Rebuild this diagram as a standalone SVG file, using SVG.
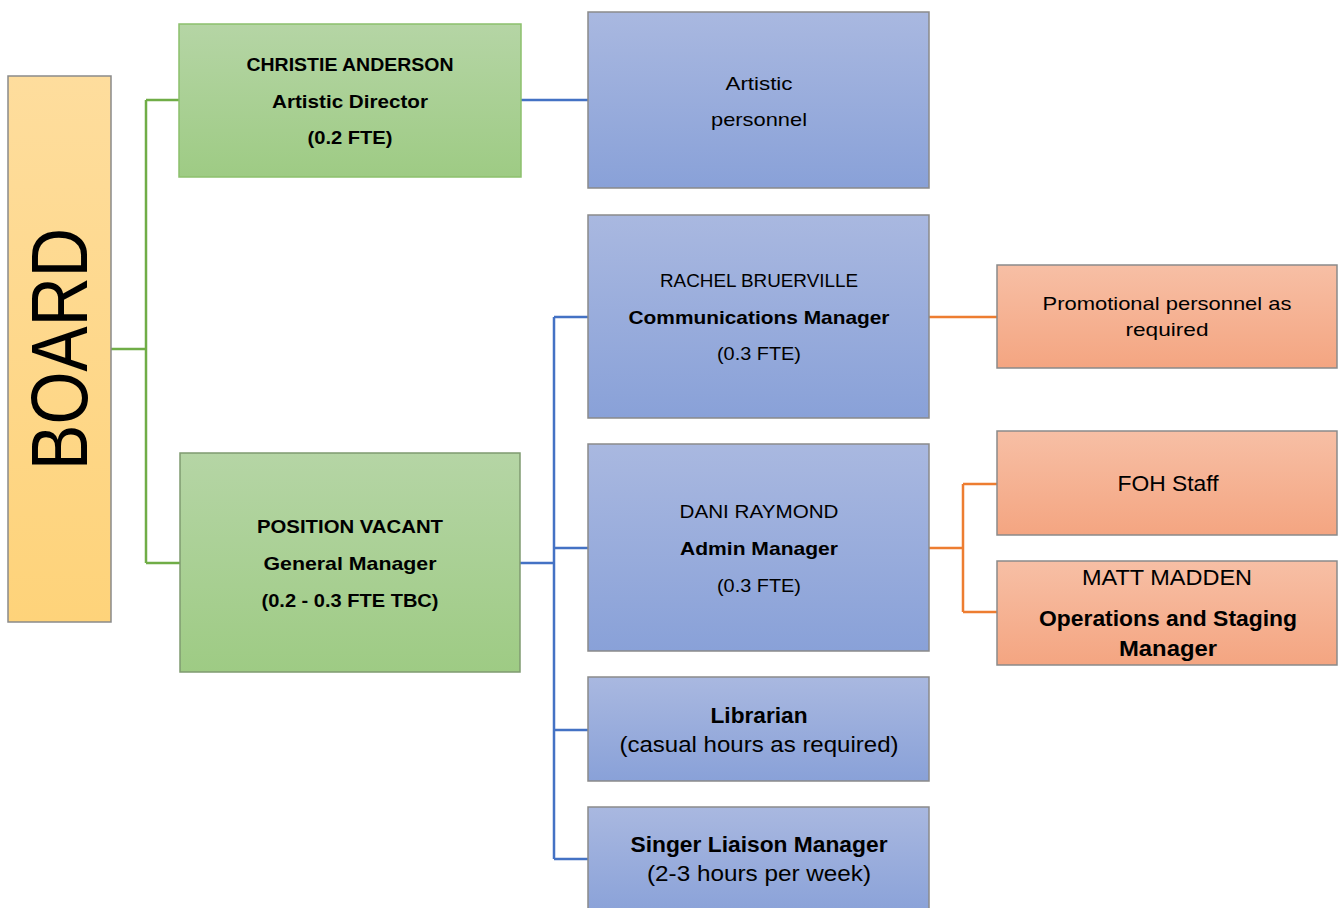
<svg xmlns="http://www.w3.org/2000/svg" width="1342" height="908" viewBox="0 0 1342 908">
<defs>
<linearGradient id="gY" x1="0" y1="0" x2="0" y2="1"><stop offset="0" stop-color="#fedd9d"/><stop offset="1" stop-color="#fed37a"/></linearGradient>
<linearGradient id="gG" x1="0" y1="0" x2="0" y2="1"><stop offset="0" stop-color="#b5d5a5"/><stop offset="1" stop-color="#9ecb84"/></linearGradient>
<linearGradient id="gB" x1="0" y1="0" x2="0" y2="1"><stop offset="0" stop-color="#a9b8e0"/><stop offset="1" stop-color="#89a1d8"/></linearGradient>
<linearGradient id="gO" x1="0" y1="0" x2="0" y2="1"><stop offset="0" stop-color="#f7bfa5"/><stop offset="1" stop-color="#f4a581"/></linearGradient>
</defs>
<style>
text{font-family:"Liberation Sans",Arial,sans-serif;fill:#000;text-anchor:middle}
.b{font-weight:bold}
.s{font-size:19px}
.m{font-size:22px}
.box{stroke:#8a8a8a;stroke-width:1.5}
.cg{stroke:#70ad47;stroke-width:2.5;fill:none}
.cb{stroke:#4472c4;stroke-width:2.5;fill:none}
.co{stroke:#ed7d31;stroke-width:2.5;fill:none}
</style>
<rect width="1342" height="908" fill="#fff"/>
<g id="connectors">
<path class="cg" d="M111 349H146M146 100V563M146 100H179M146 563H180"/>
<path class="cb" d="M521 100H588"/>
<path class="cb" d="M520 563H554M554 317V859M554 317H588M554 548H588M554 730H588M554 859H588"/>
<path class="co" d="M929 317H997"/>
<path class="co" d="M929 548H963M963 484V612M963 484H997M963 612H997"/>
</g>
<g id="board">
<rect class="box" x="8" y="76" width="103" height="546" fill="url(#gY)"/>
<text transform="translate(87,349) rotate(-90)" font-size="80" textLength="242" lengthAdjust="spacingAndGlyphs">BOARD</text>
</g>
<g id="christie">
<rect x="179" y="24" width="342" height="153" fill="url(#gG)" stroke="#8cc06c" stroke-width="1.5"/>
<text class="s b" x="350" y="71" textLength="207" lengthAdjust="spacingAndGlyphs">CHRISTIE ANDERSON</text>
<text class="s b" x="350" y="108" textLength="156" lengthAdjust="spacingAndGlyphs">Artistic Director</text>
<text class="s b" x="350" y="144" textLength="85" lengthAdjust="spacingAndGlyphs">(0.2 FTE)</text>
</g>
<g id="artistic">
<rect class="box" x="588" y="12" width="341" height="176" fill="url(#gB)"/>
<text class="s" x="759" y="90" textLength="67" lengthAdjust="spacingAndGlyphs">Artistic</text>
<text class="s" x="759" y="126" textLength="96" lengthAdjust="spacingAndGlyphs">personnel</text>
</g>
<g id="vacant">
<rect x="180" y="453" width="340" height="219" fill="url(#gG)" stroke="#7f9a70" stroke-width="1.5"/>
<text class="s b" x="350" y="533" textLength="186" lengthAdjust="spacingAndGlyphs">POSITION VACANT</text>
<text class="s b" x="350" y="570" textLength="173" lengthAdjust="spacingAndGlyphs">General Manager</text>
<text class="s b" x="350" y="607" textLength="177" lengthAdjust="spacingAndGlyphs">(0.2 - 0.3 FTE TBC)</text>
</g>
<g id="rachel">
<rect class="box" x="588" y="215" width="341" height="203" fill="url(#gB)"/>
<text class="s" x="759" y="287" textLength="198" lengthAdjust="spacingAndGlyphs">RACHEL BRUERVILLE</text>
<text class="s b" x="759" y="324" textLength="261" lengthAdjust="spacingAndGlyphs">Communications Manager</text>
<text class="s" x="759" y="360" textLength="84" lengthAdjust="spacingAndGlyphs">(0.3 FTE)</text>
</g>
<g id="dani">
<rect class="box" x="588" y="444" width="341" height="207" fill="url(#gB)"/>
<text class="s" x="759" y="518" textLength="159" lengthAdjust="spacingAndGlyphs">DANI RAYMOND</text>
<text class="s b" x="759" y="555" textLength="158" lengthAdjust="spacingAndGlyphs">Admin Manager</text>
<text class="s" x="759" y="592" textLength="84" lengthAdjust="spacingAndGlyphs">(0.3 FTE)</text>
</g>
<g id="librarian">
<rect class="box" x="588" y="677" width="341" height="104" fill="url(#gB)"/>
<text class="m b" x="759" y="723" textLength="97" lengthAdjust="spacingAndGlyphs">Librarian</text>
<text class="m" x="759" y="752" textLength="279" lengthAdjust="spacingAndGlyphs">(casual hours as required)</text>
</g>
<g id="singer">
<rect class="box" x="588" y="807" width="341" height="110" fill="url(#gB)"/>
<text class="m b" x="759" y="852" textLength="257" lengthAdjust="spacingAndGlyphs">Singer Liaison Manager</text>
<text class="m" x="759" y="881" textLength="224" lengthAdjust="spacingAndGlyphs">(2-3 hours per week)</text>
</g>
<g id="promotional">
<rect class="box" x="997" y="265" width="340" height="103" fill="url(#gO)"/>
<text class="s" x="1167" y="310" textLength="249" lengthAdjust="spacingAndGlyphs">Promotional personnel as</text>
<text class="s" x="1167" y="336" textLength="83" lengthAdjust="spacingAndGlyphs">required</text>
</g>
<g id="foh">
<rect class="box" x="997" y="431" width="340" height="104" fill="url(#gO)"/>
<text class="m" x="1168" y="491" textLength="101" lengthAdjust="spacingAndGlyphs">FOH Staff</text>
</g>
<g id="matt">
<rect class="box" x="997" y="561" width="340" height="104" fill="url(#gO)"/>
<text class="m" x="1167" y="585" textLength="170" lengthAdjust="spacingAndGlyphs">MATT MADDEN</text>
<text class="m b" x="1168" y="626" textLength="258" lengthAdjust="spacingAndGlyphs">Operations and Staging</text>
<text class="m b" x="1168" y="656" textLength="98" lengthAdjust="spacingAndGlyphs">Manager</text>
</g>
</svg>
